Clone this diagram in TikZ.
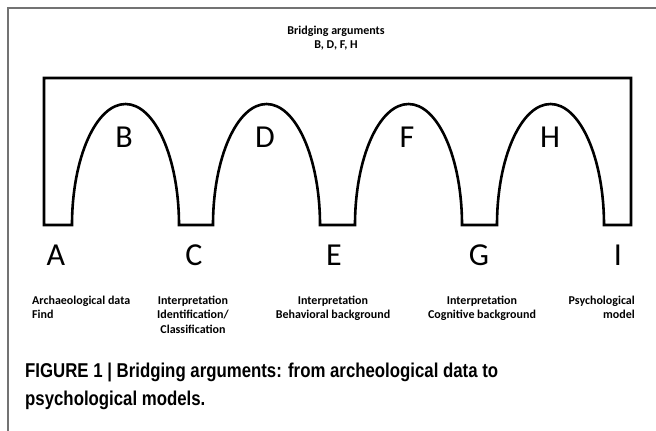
\documentclass[tikz,border=0pt]{standalone}
\usepackage{fontspec}
\setmainfont{Carlito}
\newfontfamily\capfont[FakeStretch=0.84]{Liberation Sans}
\begin{document}
\begin{tikzpicture}[x=1pt,y=-1pt,
  framerule/.style={draw=black!55,line width=1.3pt},
  bridgeline/.style={draw=black,line width=2.6pt,line join=miter},
  bigletter/.style={inner sep=0pt,font=\fontsize{32}{32}\selectfont},
  smalllabel/.style={inner sep=0pt,font=\fontsize{12}{14.2}\selectfont\bfseries},
  captiontext/.style={inner sep=0pt,anchor=north west,align=left,
    font=\fontsize{20}{27.5}\selectfont\capfont\bfseries}]
\useasboundingbox (0,0) rectangle (656,431);
% frame along the top and left edges
\coordinate (fl) at (8,431);
\coordinate (fc) at (8,8);
\coordinate (fr) at (656,8);
\draw[framerule] (fl) -- (fc) -- (fr);
% title
\node[smalllabel,anchor=north,align=center] (title) at (336,26) {Bridging arguments\\B, D, F, H};
% the bridge: deck, end piers and four elliptical arches
\def\ky{66.8}
\def\kx{29.5}
\draw[bridgeline]
  (44,225) -- (44,78) -- (631,78) -- (631,225) -- (604,225)
  .. controls (604,158.2) and (550.5+\kx,104) .. (550.5,104)
  .. controls (550.5-\kx,104) and (497,158.2) .. (497,225)
  -- (462,225)
  .. controls (462,158.2) and (408.5+\kx,104) .. (408.5,104)
  .. controls (408.5-\kx,104) and (355,158.2) .. (355,225)
  -- (320,225)
  .. controls (320,158.2) and (266.5+\kx,104) .. (266.5,104)
  .. controls (266.5-\kx,104) and (213,158.2) .. (213,225)
  -- (179,225)
  .. controls (179,158.2) and (125.5+\kx,104) .. (125.5,104)
  .. controls (125.5-\kx,104) and (72,158.2) .. (72,225)
  -- cycle;
% arch letters
\node[bigletter] (B) at (124,137) {B};
\node[bigletter] (D) at (265,137) {D};
\node[bigletter] (F) at (407,137) {F};
\node[bigletter] (H) at (550,137) {H};
% pier letters
\node[bigletter] (A) at (56,255) {A};
\node[bigletter] (C) at (194,255) {C};
\node[bigletter] (E) at (334,255) {E};
\node[bigletter] (G) at (479,255) {G};
\node[bigletter] (I) at (618,255) {I};
% pier descriptions
\node[smalllabel,anchor=north west,align=left] (la) at (32,296) {Archaeological data\\Find};
\node[smalllabel,anchor=north,align=center] (lc) at (193,296) {Interpretation\\Identification/\\Classification};
\node[smalllabel,anchor=north,align=center] (le) at (333,296) {Interpretation\\Behavioral background};
\node[smalllabel,anchor=north,align=center] (lg) at (482,296) {Interpretation\\Cognitive background};
\node[smalllabel,anchor=north east,align=right] (li) at (635,296) {Psychological\\model};
% caption
\node[captiontext] (cap) at (25,363) {FIGURE 1 | Bridging arguments: from archeological data to\\psychological models.};
\end{tikzpicture}
\end{document}
